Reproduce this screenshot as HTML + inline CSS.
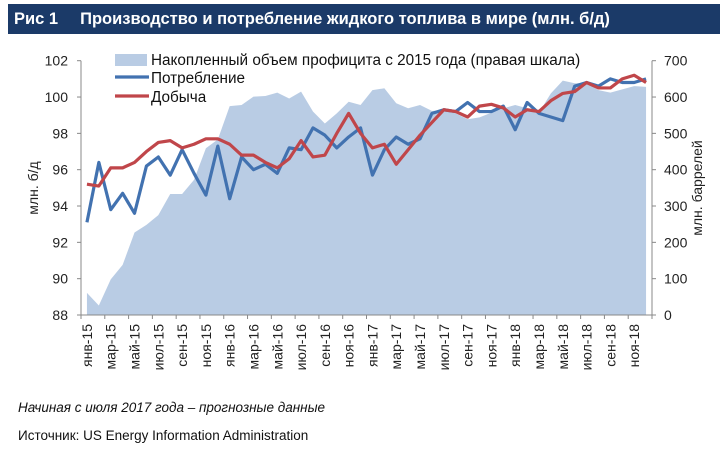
<!DOCTYPE html>
<html><head><meta charset="utf-8">
<style>
body{margin:0;width:720px;height:450px;background:#fff;overflow:hidden;font-family:"Liberation Sans",sans-serif;}
#title{position:absolute;left:8px;top:4px;width:712px;height:30px;background:#1b3a68;color:#fff;font-weight:bold;font-size:16.5px;line-height:30px;}
.note{position:absolute;left:18px;font-size:13.5px;color:#111;}
</style></head><body>
<div id="title"><span style="margin-left:6px">Рис 1</span><span style="margin-left:22px">Производство и потребление жидкого топлива в мире (млн. б/д)</span></div>
<svg id="chart" width="720" height="450" style="position:absolute;left:0;top:0"></svg>
<div class="note" style="top:400px;font-style:italic">Начиная с июля 2017 года – прогнозные данные</div>
<div class="note" style="top:428px">Источник: US Energy Information Administration</div>
<script>
const monthNames=["янв","фев","мар","апр","май","июн","июл","авг","сен","окт","ноя","дек"];
const years=["15","16","17","18"];
const consumption=[93.1,96.4,93.8,94.7,93.6,96.2,96.7,95.7,97.1,95.8,94.6,97.3,94.4,96.7,96.0,96.3,95.8,97.2,97.1,98.3,97.9,97.2,97.8,98.3,95.7,97.1,97.8,97.4,97.7,99.1,99.3,99.2,99.7,99.2,99.2,99.5,98.2,99.7,99.1,98.9,98.7,100.6,100.8,100.6,101.0,100.8,100.8,101.0];
const production=[95.2,95.1,96.1,96.1,96.4,97.0,97.5,97.6,97.2,97.4,97.7,97.7,97.4,96.8,96.8,96.4,96.1,96.6,97.6,96.7,96.8,98.0,99.1,98.0,97.2,97.4,96.3,97.1,97.9,98.6,99.3,99.2,98.9,99.5,99.6,99.4,98.9,99.3,99.2,99.8,100.2,100.3,100.8,100.5,100.5,101.0,101.2,100.8];
const surplus=[61,26,98,138,227,248,275,333,333,372,459,483,575,578,601,603,612,596,615,560,527,555,587,578,619,624,583,569,578,562,564,555,539,544,557,569,578,569,557,610,645,638,638,619,612,621,630,628];
const leftTicks=[88,90,92,94,96,98,100,102];
const rightTicks=[0,100,200,300,400,500,600,700];
const NS="http://www.w3.org/2000/svg";
const svg=document.getElementById('chart');
const X0=81,X1=652,Y0=315,Y1=60.7,N=consumption.length;
const step=(X1-X0)/N;
function x(i){return X0+step*(i+0.5);}
function yl(v){return Y0-(v-88)/(102-88)*(Y0-Y1);}
function yr(v){return Y0-v/700*(Y0-Y1);}
function el(t,a){const e=document.createElementNS(NS,t);for(const k in a)e.setAttribute(k,a[k]);svg.appendChild(e);return e;}
let d=`M${x(0)},${Y0}`;surplus.forEach((v,i)=>d+=` L${x(i)},${yr(v)}`);d+=` L${x(N-1)},${Y0} Z`;
const area=el('path',{d:d,fill:'#b9cce4'});


function line(arr,col,name){const p=el('polyline',{points:arr.map((v,i)=>x(i)+','+yl(v)).join(' '),fill:'none',stroke:col,'stroke-width':3.2,'stroke-linejoin':'round'});

}
line(consumption,'#4272b0','consumption-line');
line(production,'#c0464a','production-line');
el('line',{x1:X0,y1:Y1,x2:X0,y2:Y0,stroke:'#888'});
el('line',{x1:X1,y1:Y1,x2:X1,y2:Y0,stroke:'#888'});
el('line',{x1:X0,y1:Y0,x2:X1,y2:Y0,stroke:'#888'});
leftTicks.forEach(v=>{el('line',{x1:X0-4,x2:X0,y1:yl(v),y2:yl(v),stroke:'#888'});
const t=el('text',{x:X0-13,y:yl(v)+5,'text-anchor':'end','font-size':14,fill:'#222'});t.textContent=v;

});
rightTicks.forEach(v=>{el('line',{x1:X1,x2:X1+4,y1:yr(v),y2:yr(v),stroke:'#888'});
const t=el('text',{x:X1+12,y:yr(v)+5,'font-size':14,fill:'#222'});t.textContent=v;

});
for(let i=0;i<=N;i+=2){el('line',{x1:X0+i*step,x2:X0+i*step,y1:Y0,y2:Y0+4,stroke:'#888'});}
for(let i=0;i<N;i+=2){const lbl=monthNames[i%12]+'-'+years[Math.floor(i/12)];
const t=el('text',{x:0,y:0,'font-size':14,fill:'#222','text-anchor':'end',transform:`translate(${x(i)+5},${Y0+9}) rotate(-90)`});t.textContent=lbl;

}
let t=el('text',{x:0,y:0,'font-size':14,fill:'#222','text-anchor':'middle',transform:`translate(38,188) rotate(-90)`});t.textContent='млн. б/д';


t=el('text',{x:0,y:0,'font-size':14,fill:'#222','text-anchor':'middle',transform:`translate(702,188) rotate(-90)`});t.textContent='млн. баррелей';


el('rect',{x:115,y:54,width:32,height:12,fill:'#b9cce4'});
el('line',{x1:115,x2:149,y1:77,y2:77,stroke:'#4272b0','stroke-width':3.2});
el('line',{x1:115,x2:149,y1:96,y2:96,stroke:'#c0464a','stroke-width':3.2});
[["Накопленный объем профицита с 2015 года (правая шкала)",65,'legend-surplus'],["Потребление",83,'legend-consumption'],["Добыча",102,'legend-production']].forEach(a=>{
const e=el('text',{x:151,y:a[1],'font-size':15.3,fill:'#111'});e.textContent=a[0];

});
</script>
</body></html>
